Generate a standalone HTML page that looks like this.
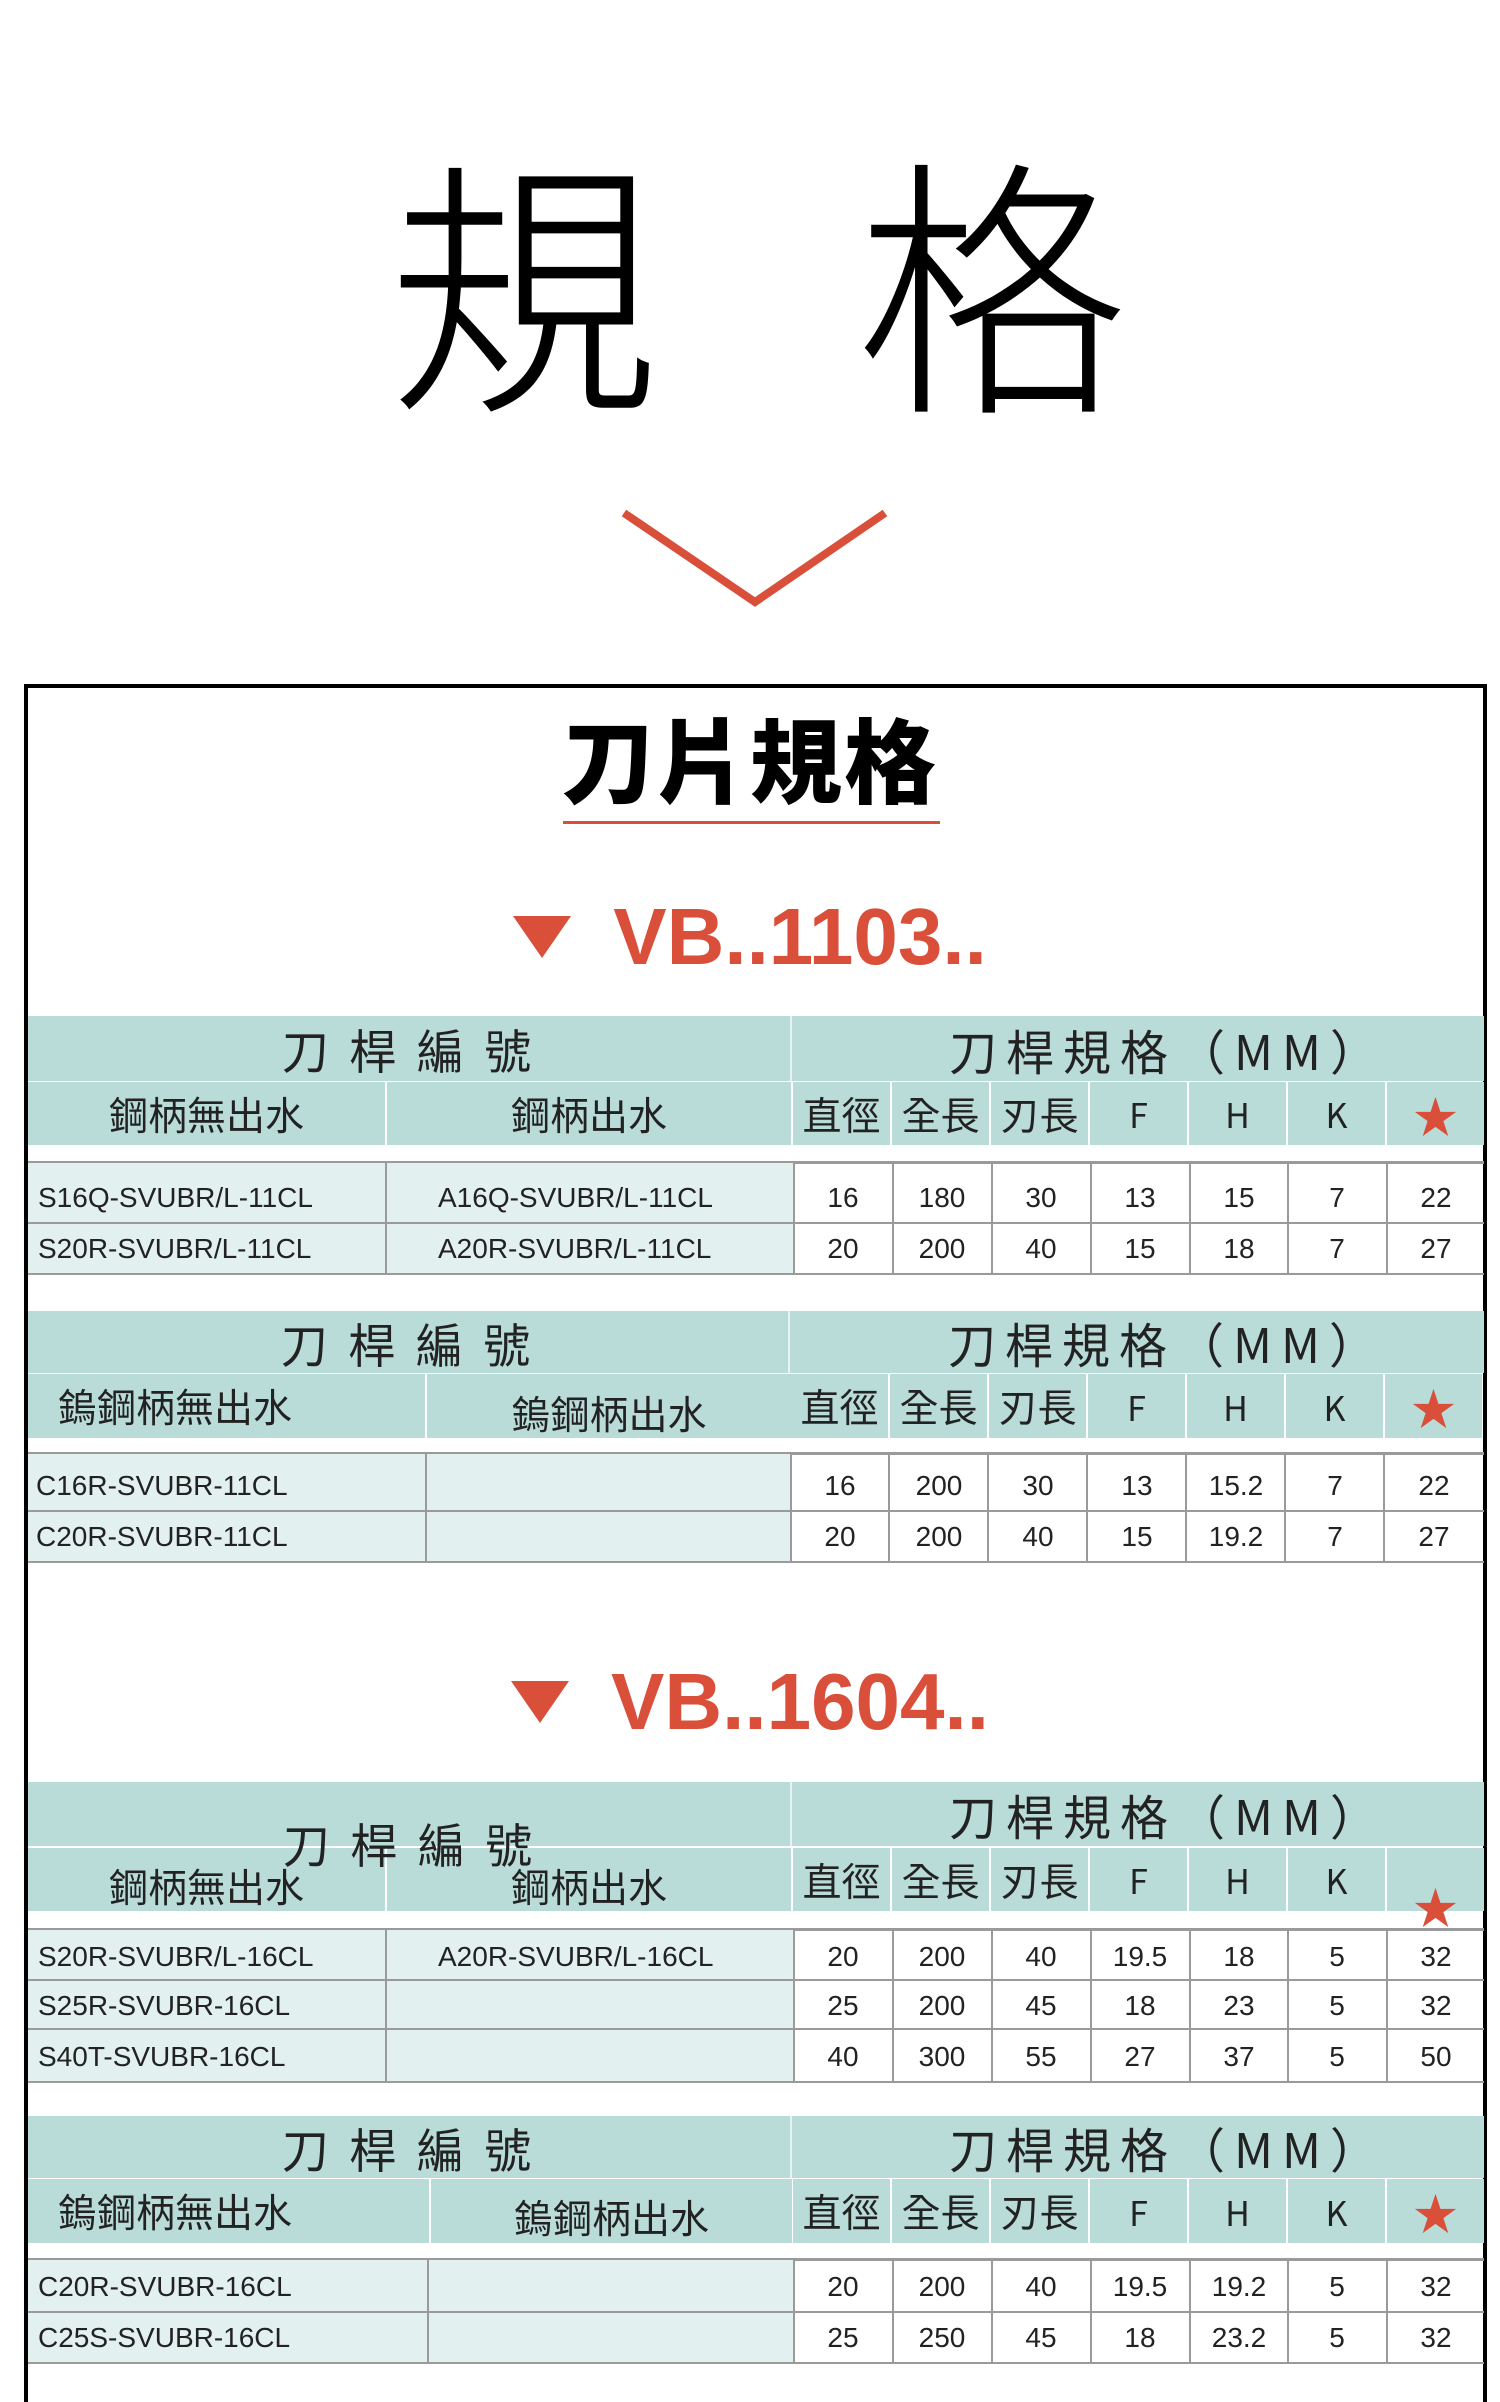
<!DOCTYPE html>
<html><head><meta charset="utf-8">
<style>
*{margin:0;padding:0;box-sizing:border-box}
html,body{width:1500px;height:2402px;background:#fff;overflow:hidden;position:relative}
body{font-family:"Liberation Sans","Noto Sans CJK TC",sans-serif;color:#222}
.abs{position:absolute}
.big{position:absolute;font-family:"Noto Sans CJK TC","Noto Sans CJK SC",sans-serif;font-weight:300;font-size:272px;line-height:1;color:#000}
.box{position:absolute;left:24px;top:684px;width:1463px;height:1760px;border:4px solid #000}
.title{position:absolute;left:0;width:1500px;top:702px;text-align:center;font-family:"Noto Sans CJK TC",sans-serif;font-weight:900;font-size:92px;line-height:110px;color:#000;letter-spacing:2px}
.ul{position:absolute;left:563px;top:821px;width:377px;height:3px;background:#d94f3a}
.vb{position:absolute;left:0;width:1500px;text-align:center;color:#d94f3a;font-weight:bold;font-size:80px;line-height:90px;font-family:"Liberation Sans",sans-serif}
.tri{display:inline-block;width:0;height:0;border-left:29px solid transparent;border-right:29px solid transparent;border-top:42px solid #d94f3a;margin-right:42px;vertical-align:6px}
.t{position:absolute;left:28px;width:1456px}
.c{position:absolute;display:flex;align-items:center;justify-content:center;white-space:nowrap}
.h{background:#b9dcd9;color:#222;font-family:"Noto Sans CJK TC",sans-serif}
.h1{font-size:47px;letter-spacing:5px}
.hr{font-size:48px;letter-spacing:9px}
.h2{font-size:39px}
.star{color:#d94f3a;font-size:44px}
</style></head><body>

<div class="big" style="left:388px;top:138px">規</div>
<div class="big" style="left:856px;top:138px">格</div>
<svg class="abs" style="left:0;top:0" width="1500" height="700"><polyline points="624,513 755,602 885,513" fill="none" stroke="#d94f3a" stroke-width="8"/></svg>

<div class="box"></div>
<div class="title">刀片規格</div>
<div class="ul"></div>
<div class="vb" style="top:892px"><span class="tri"></span>VB..1103..</div>
<div class="vb" style="top:1657px"><span class="tri"></span>VB..1604..</div>

<!-- TABLE 1 -->
<div class="t" style="top:1016px;height:260px">
 <div class="c h h1" style="left:0;top:0;width:764px;height:65px;border-right:2px solid #e8f3f2">刀 桿 編 號</div>
 <div class="c h hr" style="left:764px;top:0;width:692px;height:65px;padding-left:60px">刀桿規格（MM）</div>
 <div class="c h h2" style="left:0;top:66px;width:357px;height:63px">鋼柄無出水</div>
 <div class="c h h2" style="left:359px;top:66px;width:404px;height:63px">鋼柄出水</div>
 <div class="c h h2" style="left:765px;top:66px;width:97px;height:63px">直徑</div>
 <div class="c h h2" style="left:864px;top:66px;width:97px;height:63px">全長</div>
 <div class="c h h2" style="left:963px;top:66px;width:97px;height:63px">刃長</div>
 <div class="c h" style="left:1062px;top:66px;width:97px;height:63px;font-size:34px">F</div>
 <div class="c h" style="left:1161px;top:66px;width:97px;height:63px;font-size:34px">H</div>
 <div class="c h" style="left:1260px;top:66px;width:97px;height:63px;font-size:34px">K</div>
 <div class="c h star" style="left:1359px;top:66px;width:97px;height:63px">★</div>
 <div class="abs" style="left:0;top:145px;width:1456px;height:3px;background:#9a9a9a"></div>
</div>

<!-- TABLE 2 -->
<div class="t" style="top:1311px;height:255px">
 <div class="c h h1" style="left:0;top:0;width:762px;height:62px;border-right:2px solid #e8f3f2">刀 桿 編 號</div>
 <div class="c h hr" style="left:762px;top:0;width:694px;height:62px;padding-left:60px">刀桿規格（MM）</div>
 <div class="c h h2" style="left:0;top:63px;width:397px;height:64px;justify-content:flex-start;padding-left:30px">鎢鋼柄無出水</div>
 <div class="c h h2" style="left:399px;top:63px;width:364px;height:64px;padding-top:14px">鎢鋼柄出水</div>
 <div class="c h h2" style="left:763px;top:63px;width:97px;height:64px">直徑</div>
 <div class="c h h2" style="left:862px;top:63px;width:97px;height:64px">全長</div>
 <div class="c h h2" style="left:961px;top:63px;width:97px;height:64px">刃長</div>
 <div class="c h" style="left:1060px;top:63px;width:97px;height:64px;font-size:34px">F</div>
 <div class="c h" style="left:1159px;top:63px;width:97px;height:64px;font-size:34px">H</div>
 <div class="c h" style="left:1258px;top:63px;width:97px;height:64px;font-size:34px">K</div>
 <div class="c h star" style="left:1357px;top:63px;width:97px;height:64px">★</div>
 <div class="abs" style="left:0;top:141px;width:1456px;height:3px;background:#9a9a9a"></div>
</div>

<!-- TABLE 3 -->
<div class="t" style="top:1782px;height:302px">
 <div class="c h" style="left:0;top:0;width:764px;height:64px;border-right:2px solid #e8f3f2"></div>
 <div class="c h hr" style="left:764px;top:0;width:692px;height:64px;padding-left:60px">刀桿規格（MM）</div>
 <div class="c h h2" style="left:0;top:66px;width:357px;height:63px;padding-top:12px">鋼柄無出水</div>
 <div class="c h h2" style="left:359px;top:66px;width:404px;height:63px;padding-top:12px">鋼柄出水</div>
 <div class="c h h2" style="left:765px;top:66px;width:97px;height:63px">直徑</div>
 <div class="c h h2" style="left:864px;top:66px;width:97px;height:63px">全長</div>
 <div class="c h h2" style="left:963px;top:66px;width:97px;height:63px">刃長</div>
 <div class="c h" style="left:1062px;top:66px;width:97px;height:63px;font-size:34px">F</div>
 <div class="c h" style="left:1161px;top:66px;width:97px;height:63px;font-size:34px">H</div>
 <div class="c h" style="left:1260px;top:66px;width:97px;height:63px;font-size:34px">K</div>
 <div class="c h" style="left:1359px;top:66px;width:97px;height:63px"></div>
 <div class="c star" style="left:1359px;top:98px;width:97px;height:50px">★</div>
 <div class="c h1" style="left:0;top:30px;width:764px;height:60px;background:transparent;font-family:'Noto Sans CJK TC',sans-serif">刀 桿 編 號</div>
 <div class="abs" style="left:0;top:146px;width:1456px;height:3px;background:#9a9a9a"></div>
</div>

<!-- TABLE 4 -->
<div class="t" style="top:2116px;height:250px">
 <div class="c h h1" style="left:0;top:0;width:764px;height:62px;border-right:2px solid #e8f3f2">刀 桿 編 號</div>
 <div class="c h hr" style="left:764px;top:0;width:692px;height:62px;padding-left:60px">刀桿規格（MM）</div>
 <div class="c h h2" style="left:0;top:63px;width:401px;height:64px;justify-content:flex-start;padding-left:30px">鎢鋼柄無出水</div>
 <div class="c h h2" style="left:403px;top:63px;width:361px;height:64px;padding-top:12px">鎢鋼柄出水</div>
 <div class="c h h2" style="left:765px;top:63px;width:97px;height:64px">直徑</div>
 <div class="c h h2" style="left:864px;top:63px;width:97px;height:64px">全長</div>
 <div class="c h h2" style="left:963px;top:63px;width:97px;height:64px">刃長</div>
 <div class="c h" style="left:1062px;top:63px;width:97px;height:64px;font-size:34px">F</div>
 <div class="c h" style="left:1161px;top:63px;width:97px;height:64px;font-size:34px">H</div>
 <div class="c h" style="left:1260px;top:63px;width:97px;height:64px;font-size:34px">K</div>
 <div class="c h star" style="left:1359px;top:63px;width:97px;height:64px">★</div>
 <div class="abs" style="left:0;top:142px;width:1456px;height:3px;background:#9a9a9a"></div>
</div>

<!-- DATA ROWS -->
<svg class="abs" style="left:0;top:0" width="1500" height="2402" font-family="Liberation Sans, sans-serif" font-size="28" fill="#222">
 <rect x="28" y="1163" width="766" height="111" fill="#e2f0ef"/>
 <rect x="28" y="1454" width="763" height="108" fill="#e2f0ef"/>
 <rect x="28" y="1930" width="766" height="152" fill="#e2f0ef"/>
 <rect x="28" y="2260" width="766" height="103" fill="#e2f0ef"/>
 <g stroke="#9a9a9a" stroke-width="2" fill="none">
  <path d="M28 1223H1484M28 1274H1484M386 1163V1274M794 1163V1274M893 1163V1274M992 1163V1274M1091 1163V1274M1190 1163V1274M1288 1163V1274M1387 1163V1274"/>
  <path d="M28 1511H1484M28 1562H1484M426 1454V1562M791 1454V1562M889 1454V1562M988 1454V1562M1087 1454V1562M1186 1454V1562M1285 1454V1562M1384 1454V1562"/>
  <path d="M28 1980H1484M28 2029H1484M28 2082H1484M386 1930V2082M794 1930V2082M893 1930V2082M992 1930V2082M1091 1930V2082M1190 1930V2082M1288 1930V2082M1387 1930V2082"/>
  <path d="M28 2312H1484M28 2363H1484M428 2260V2363M794 2260V2363M893 2260V2363M992 2260V2363M1091 2260V2363M1190 2260V2363M1288 2260V2363M1387 2260V2363"/>
 </g>
 <g text-anchor="start">
  <text x="38" y="1207">S16Q-SVUBR/L-11CL</text>
  <text x="38" y="1258">S20R-SVUBR/L-11CL</text>
  <text x="438" y="1207">A16Q-SVUBR/L-11CL</text>
  <text x="438" y="1258">A20R-SVUBR/L-11CL</text>
  <text x="36" y="1495">C16R-SVUBR-11CL</text>
  <text x="36" y="1546">C20R-SVUBR-11CL</text>
  <text x="38" y="1966">S20R-SVUBR/L-16CL</text>
  <text x="438" y="1966">A20R-SVUBR/L-16CL</text>
  <text x="38" y="2015">S25R-SVUBR-16CL</text>
  <text x="38" y="2066">S40T-SVUBR-16CL</text>
  <text x="38" y="2296">C20R-SVUBR-16CL</text>
  <text x="38" y="2347">C25S-SVUBR-16CL</text>
 </g>
 <g text-anchor="middle">
  <g transform="translate(0,1207)"><text x="843">16</text><text x="942">180</text><text x="1041">30</text><text x="1140">13</text><text x="1239">15</text><text x="1337">7</text><text x="1436">22</text></g>
  <g transform="translate(0,1258)"><text x="843">20</text><text x="942">200</text><text x="1041">40</text><text x="1140">15</text><text x="1239">18</text><text x="1337">7</text><text x="1436">27</text></g>
  <g transform="translate(0,1495)"><text x="840">16</text><text x="939">200</text><text x="1038">30</text><text x="1137">13</text><text x="1236">15.2</text><text x="1335">7</text><text x="1434">22</text></g>
  <g transform="translate(0,1546)"><text x="840">20</text><text x="939">200</text><text x="1038">40</text><text x="1137">15</text><text x="1236">19.2</text><text x="1335">7</text><text x="1434">27</text></g>
  <g transform="translate(0,1966)"><text x="843">20</text><text x="942">200</text><text x="1041">40</text><text x="1140">19.5</text><text x="1239">18</text><text x="1337">5</text><text x="1436">32</text></g>
  <g transform="translate(0,2015)"><text x="843">25</text><text x="942">200</text><text x="1041">45</text><text x="1140">18</text><text x="1239">23</text><text x="1337">5</text><text x="1436">32</text></g>
  <g transform="translate(0,2066)"><text x="843">40</text><text x="942">300</text><text x="1041">55</text><text x="1140">27</text><text x="1239">37</text><text x="1337">5</text><text x="1436">50</text></g>
  <g transform="translate(0,2296)"><text x="843">20</text><text x="942">200</text><text x="1041">40</text><text x="1140">19.5</text><text x="1239">19.2</text><text x="1337">5</text><text x="1436">32</text></g>
  <g transform="translate(0,2347)"><text x="843">25</text><text x="942">250</text><text x="1041">45</text><text x="1140">18</text><text x="1239">23.2</text><text x="1337">5</text><text x="1436">32</text></g>
 </g>
</svg>
</body></html>
